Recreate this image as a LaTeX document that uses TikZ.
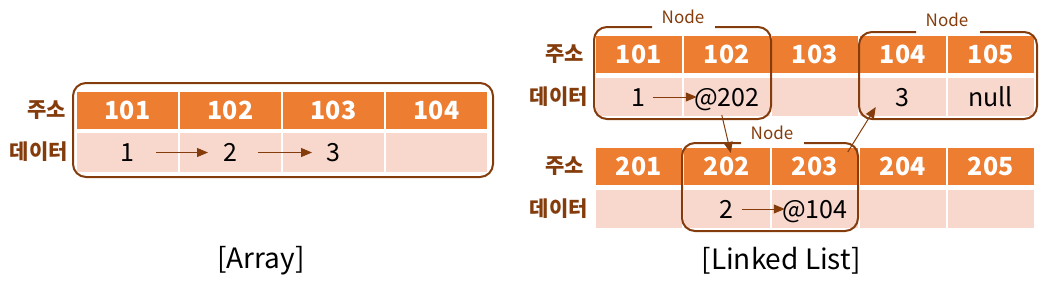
\documentclass[tikz,border=0pt]{standalone}
\usepackage{fontspec}
\setmainfont{Noto Sans CJK KR}
\usetikzlibrary{arrows.meta,positioning}
\definecolor{hdrorange}{HTML}{ED7D31}
\definecolor{datapink}{HTML}{F8D7CD}
\definecolor{boxbrown}{HTML}{843C0C}
\begin{document}
\begin{tikzpicture}[x=1pt,y=-1pt]
\tikzset{
  addrcell/.style={rectangle,fill=hdrorange,minimum height=37pt,inner sep=0pt,text=white,font=\bfseries\fontsize{25}{25}\selectfont,text height=18pt,text depth=0pt},
  datacell/.style={rectangle,fill=datapink,minimum height=38pt,inner sep=0pt,text=black,font=\fontsize{25}{25}\selectfont,text height=18pt,text depth=0pt},
  arrcell/.style={minimum width=101pt},
  listcell/.style={minimum width=85.5pt},
  rowlabel/.style={anchor=east,inner sep=0pt,text=boxbrown,font=\bfseries\fontsize{21}{21}\selectfont},
  boxlabel/.style={inner sep=0pt,text=boxbrown,font=\fontsize{17}{17}\selectfont},
  nodebox/.style={draw=boxbrown,line width=2pt,rounded corners=13pt},
  linkarrow/.style={draw=boxbrown,line width=1pt,-{Triangle[length=11pt,width=9pt]}},
  caption/.style={inner sep=0pt,font=\fontsize{28}{28}\selectfont}
}
\useasboundingbox (0,0) rectangle (1054,282);
\node[addrcell,arrcell] (a_h101) at (127.5,110.5) {101};
\node[addrcell,arrcell] (a_h102) at (230.5,110.5) {102};
\node[addrcell,arrcell] (a_h103) at (333.5,110.5) {103};
\node[addrcell,arrcell] (a_h104) at (436.5,110.5) {104};
\node[datacell,arrcell,minimum height=39pt] (a_d101) at (127.5,152.5) {1};
\node[datacell,arrcell,minimum height=39pt] (a_d102) at (230.5,152.5) {2};
\node[datacell,arrcell,minimum height=39pt] (a_d103) at (333.5,152.5) {3};
\node[datacell,arrcell,minimum height=39pt] (a_d104) at (436.5,152.5) {};
\node[rowlabel] (a_addr) at (66,110) {주소};
\node[rowlabel] (a_data) at (68,152) {데이터};
\draw[nodebox] (73,83) rectangle (493,177);
\draw[linkarrow] ([xshift=28.5pt]a_d101.center) -- ([xshift=-22.5pt]a_d102.center);
\draw[linkarrow] ([xshift=27.5pt]a_d102.center) -- ([xshift=-21.5pt]a_d103.center);
\node[caption] (cap_array) at (261,261) {[Array]};
\node[addrcell,listcell] (l_h101) at (638.75,54.5) {101};
\node[addrcell,listcell] (l_h102) at (726.75,54.5) {102};
\node[addrcell,listcell] (l_h103) at (814.75,54.5) {103};
\node[addrcell,listcell] (l_h104) at (902.75,54.5) {104};
\node[addrcell,listcell] (l_h105) at (990.75,54.5) {105};
\node[datacell,listcell] (l_d101) at (638.75,97) {1};
\node[datacell,listcell] (l_d102) at (726.75,97) {@202};
\node[datacell,listcell] (l_d103) at (814.75,97) {};
\node[datacell,listcell] (l_d104) at (902.75,97) {3};
\node[datacell,listcell] (l_d105) at (990.75,97) {null};
\node[addrcell,listcell] (l_h201) at (638.75,166.5) {201};
\node[addrcell,listcell] (l_h202) at (726.75,166.5) {202};
\node[addrcell,listcell] (l_h203) at (814.75,166.5) {203};
\node[addrcell,listcell] (l_h204) at (902.75,166.5) {204};
\node[addrcell,listcell] (l_h205) at (990.75,166.5) {205};
\node[datacell,listcell] (l_d201) at (638.75,209) {};
\node[datacell,listcell] (l_d202) at (726.75,209) {2};
\node[datacell,listcell] (l_d203) at (814.75,209) {@104};
\node[datacell,listcell] (l_d204) at (902.75,209) {};
\node[datacell,listcell] (l_d205) at (990.75,209) {};
\node[rowlabel] (l_addr1) at (584,54) {주소};
\node[rowlabel] (l_data1) at (588,97) {데이터};
\node[rowlabel] (l_addr2) at (584,166) {주소};
\node[rowlabel] (l_data2) at (588,209) {데이터};
\node[boxlabel] (l_box1) at (683,17) {Node};
\node[boxlabel] (l_box2) at (947,20) {Node};
\node[boxlabel] (l_box3) at (772,133) {Node};
\draw[nodebox] (715,27) -| (771,119) -| (594,27) -- (652,27);
\draw[nodebox] (980,32) -| (1037,119) -| (859,32) -- (916,32);
\draw[nodebox] (804,143) -| (858,231) -| (682,143) -- (741,143);
\draw[linkarrow] ([xshift=14pt]l_d101.center) -- ([xshift=-30pt]l_d102.center);
\draw[linkarrow] ([xshift=15pt]l_d202.center) -- ([xshift=-30pt]l_d203.center);
\draw[linkarrow] ([xshift=-5pt,yshift=-18pt]l_d102.center) -- ([xshift=4pt,yshift=13.5pt]l_h202.center);
\draw[linkarrow] ([xshift=33pt,yshift=14.5pt]l_h203.center) -- ([xshift=-27pt,yshift=-10pt]l_d104.center);
\node[caption] (cap_list) at (781,261) {[Linked List]};
\end{tikzpicture}
\end{document}
